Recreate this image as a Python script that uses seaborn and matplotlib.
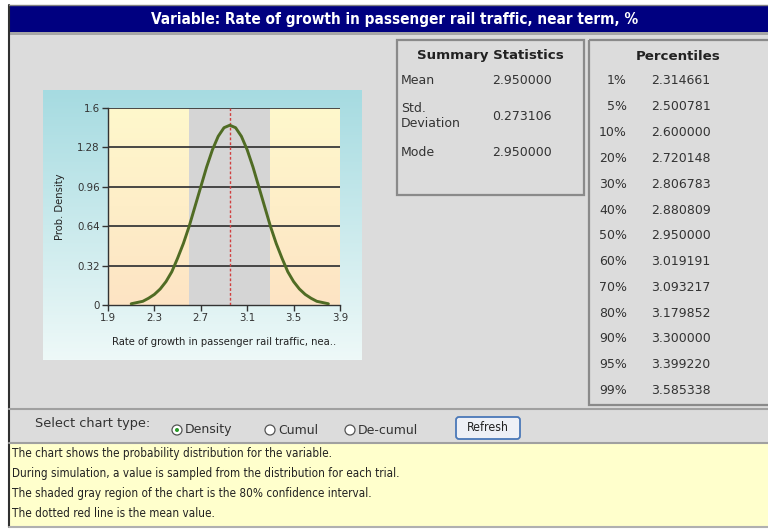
import numpy as np
import pandas as pd
import matplotlib
matplotlib.use('Agg')
import matplotlib.pyplot as plt
from matplotlib import font_manager
from matplotlib.patches import Rectangle, FancyBboxPatch, Circle
import seaborn as sns

# values
growth = [2.10, 2.15, 2.20, 2.25, 2.30, 2.35, 2.40, 2.45, 2.50, 2.55, 2.60, 2.65, 2.70,
          2.75, 2.80, 2.85, 2.90, 2.95, 3.00, 3.05, 3.10, 3.15, 3.20, 3.25, 3.30,
          3.35, 3.40, 3.45, 3.50, 3.55, 3.60, 3.65, 3.70, 3.75, 3.80]
density = [0.01, 0.02, 0.03, 0.055, 0.086, 0.13, 0.19, 0.27, 0.38, 0.50, 0.64, 0.80, 0.96,
           1.12, 1.26, 1.37, 1.44, 1.46, 1.44, 1.37, 1.26, 1.12, 0.96, 0.80, 0.64,
           0.50, 0.38, 0.27, 0.19, 0.13, 0.086, 0.055, 0.03, 0.02, 0.01]
ci_low, ci_high = 2.60, 3.30
mean_val = 2.95
x_ticks = [1.9, 2.3, 2.7, 3.1, 3.5, 3.9]
y_ticks = [0, 0.32, 0.64, 0.96, 1.28, 1.6]
x_tick_labels = ['1.9', '2.3', '2.7', '3.1', '3.5', '3.9']
y_tick_labels = ['0', '0.32', '0.64', '0.96', '1.28', '1.6']

summary_names = ['Mean', 'Std.\nDeviation', 'Mode']
summary_values = ['2.950000', '0.273106', '2.950000']
pct_labels = ['1%', '5%', '10%', '20%', '30%', '40%', '50%', '60%', '70%', '80%', '90%', '95%', '99%']
pct_values = ['2.314661', '2.500781', '2.600000', '2.720148', '2.806783', '2.880809', '2.950000',
              '3.019191', '3.093217', '3.179852', '3.300000', '3.399220', '3.585338']
notes = ['The chart shows the probability distribution for the variable.',
         'During simulation, a value is sampled from the distribution for each trial.',
         'The shaded gray region of the chart is the 80% confidence interval.',
         'The dotted red line is the mean value.']

sns.set_theme(style='white')
plt.rcParams['font.family'] = ['DejaVu Sans']

# use the condensed DejaVu face when it is installed
fonts = font_manager.fontManager.ttflist
has_cond = any(f.name == 'DejaVu Sans' and f.stretch == 'condensed' for f in fonts)
cond_kw = dict(fontstretch='condensed') if has_cond else {}
tick_size = 8.2 if has_cond else 7.4
xlab_size = 8 if has_cond else 7.2
title_size = 11 if has_cond else 10
note_size = 8.4 if has_cond else 7.7

W, H = 768, 529
fig = plt.figure(figsize=(W / 100, H / 100), dpi=100)
fig.patch.set_facecolor('white')

# page background drawn in pixel coordinates
bg = fig.add_axes([0, 0, 1, 1])
bg.set_xlim(0, W)
bg.set_ylim(H, 0)
bg.axis('off')

bg.add_patch(Rectangle((9, 5), W, 522, facecolor='#dcdcdc', edgecolor='none'))
bg.add_patch(Rectangle((9, 6), W, 26, facecolor='#000080', edgecolor='none'))
bg.add_patch(Rectangle((9, 32), W, 3, facecolor='#a6a6a6', edgecolor='none'))
bg.plot([9, 9], [5, 527], color='#303030', lw=1.5)
bg.plot([9, W], [5, 5], color='#808080', lw=1)
bg.text(395, 19.5, 'Variable: Rate of growth in passenger rail traffic, near term, %',
        color='white', fontsize=title_size, fontweight='bold', ha='center', va='center', **cond_kw)

# chart panel gradient
grad = np.linspace(0, 1, 256).reshape(-1, 1)
panel_cmap = matplotlib.colors.LinearSegmentedColormap.from_list('pn', ['#a6dbe1', '#eef9f8'])
bg.imshow(grad, extent=(43, 362, 360, 90), cmap=panel_cmap, aspect='auto', zorder=1)

# summary statistics box
bg.add_patch(Rectangle((397, 40), 187, 155, facecolor='none', edgecolor='#8a8a8a', lw=1.6))
bg.text(490, 56, 'Summary Statistics', fontsize=9.6, fontweight='bold', ha='center', va='center',
        color='#222222')
for name, val, yy in zip(summary_names, summary_values, [81, 116, 152]):
    bg.text(401, yy, name, fontsize=9, ha='left', va='center', color='#333333', linespacing=1.25)
    bg.text(492, yy, val, fontsize=9, ha='left', va='center', color='#333333')

# percentiles box
bg.add_patch(Rectangle((589, 40), 190, 365, facecolor='none', edgecolor='#8a8a8a', lw=1.6))
bg.text(678, 56, 'Percentiles', fontsize=9.6, fontweight='bold', ha='center', va='center',
        color='#222222')
for i, (lab, val) in enumerate(zip(pct_labels, pct_values)):
    yy = 81 + i * 25.8
    bg.text(627, yy, lab, fontsize=9, ha='right', va='center', color='#333333')
    bg.text(651, yy, val, fontsize=9, ha='left', va='center', color='#333333')

# control bar
bg.plot([9, W], [409, 409], color='#a0a0a0', lw=1.5)
bg.text(35, 424, 'Select chart type:', fontsize=9.3, ha='left', va='center', color='#333333')
for cx, lab in [(177, 'Density'), (270, 'Cumul'), (350, 'De-cumul')]:
    bg.add_patch(Circle((cx, 430), 5, facecolor='white', edgecolor='#555555', lw=0.9, zorder=3))
    bg.text(cx + 8, 430, lab, fontsize=9, ha='left', va='center', color='#333333')
bg.add_patch(Circle((177, 430), 2, facecolor='#2a9a2a', edgecolor='none', zorder=4))
bg.add_patch(FancyBboxPatch((456, 417), 64, 22, boxstyle='round,pad=0,rounding_size=3',
                            facecolor='#eef0f6', edgecolor='#4a78b8', lw=1.3))
bg.text(488, 427.5, 'Refresh', fontsize=8.8, ha='center', va='center', color='#222222', **cond_kw)

# notes area
bg.add_patch(Rectangle((10, 443), W, 83, facecolor='#ffffcc', edgecolor='none'))
bg.plot([9, W], [443, 443], color='#a0a0a0', lw=1.5)
bg.plot([9, W], [526.5, 526.5], color='#b0b0b0', lw=1.5)
for i, line in enumerate(notes):
    bg.text(12, 453 + i * 20.3, line, fontsize=note_size, ha='left', va='center', color='#222222',
            **cond_kw)

# density chart
ax = fig.add_axes([108 / W, 1 - 305 / H, 232 / W, 197 / H])
ax.set_zorder(2)
plot_cmap = matplotlib.colors.LinearSegmentedColormap.from_list('pl', ['#fff8cc', '#fde4c4'])
ax.imshow(grad, extent=(1.9, 3.9, 0, 1.6), cmap=plot_cmap, aspect='auto', zorder=0)
ax.axvspan(ci_low, ci_high, color='#d5d5d5', zorder=1, lw=0)
for yv in y_ticks[1:]:
    ax.axhline(yv, color='#3a3a3a', lw=1.3, zorder=2)
ax.axvline(mean_val, color='#d04040', lw=1, ls=(0, (2, 1.5)), zorder=3)

df = pd.DataFrame({'growth': growth, 'density': density})
sns.lineplot(data=df, x='growth', y='density', ax=ax, color='#506c24', lw=2.1, zorder=4)

ax.set_xlim(1.9, 3.9)
ax.set_ylim(0, 1.6)
ax.set_xticks(x_ticks)
ax.set_yticks(y_ticks)
ax.set_xticklabels(x_tick_labels)
ax.set_yticklabels(y_tick_labels)
for s in ['top', 'right']:
    ax.spines[s].set_visible(False)
for s in ['left', 'bottom']:
    ax.spines[s].set_color('#333333')
    ax.spines[s].set_linewidth(1)
ax.tick_params(direction='out', length=4, width=1, color='#333333', labelsize=tick_size, pad=2,
               left=True, bottom=True)
for lab in ax.get_xticklabels() + ax.get_yticklabels():
    if has_cond:
        lab.set_fontstretch('condensed')
    lab.set_color('#333333')
ax.set_xlabel('Rate of growth in passenger rail traffic, nea..', fontsize=xlab_size,
              color='#222222', labelpad=10, **cond_kw)
ax.set_ylabel('Prob. Density', fontsize=xlab_size, color='#222222', labelpad=9, **cond_kw)

fig.savefig('out.png', dpi=100)
